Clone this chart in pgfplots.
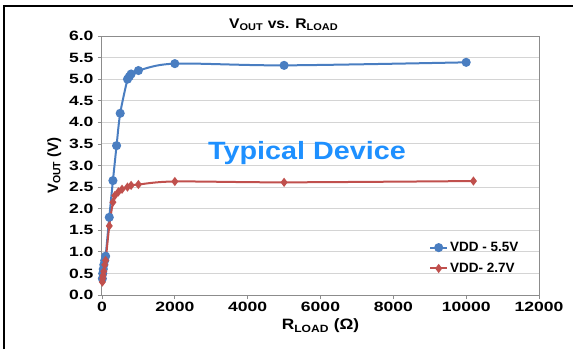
\documentclass[border=0pt]{standalone}
\usepackage{pgfplots}
\pgfplotsset{compat=1.18}
\usepackage{fontspec}
\setmainfont{Liberation Sans}
\definecolor{vblue}{RGB}{74,126,193}
\definecolor{vred}{RGB}{192,80,77}
\definecolor{tdblue}{RGB}{30,144,255}
\definecolor{axgray}{RGB}{140,140,140}
\definecolor{gridgray}{RGB}{212,212,212}
\begin{document}
\begin{tikzpicture}
\useasboundingbox (0pt,0pt) rectangle (573pt,349pt);
\draw[line width=2pt] (4pt,0pt) -- (4pt,343pt) -- (573pt,343pt);
\begin{axis}[at={(102pt,54pt)}, anchor=south west, scale only axis,
  width=437pt, height=259pt,
  xmin=0, xmax=12000, ymin=0, ymax=6,
  xtick={0,2000,...,12000}, ytick={0,0.5,...,6},
  scaled x ticks=false,
  ymajorgrids, grid style={gridgray, line width=1pt},
  axis line style={axgray, line width=1pt},
  tick style={axgray, line width=0.8pt}, tick align=outside, major tick length=4pt,
  xtick pos=lower, ytick pos=left,
  /pgf/number format/assume math mode=true,
  tick label style={font=\bfseries\fontsize{13.5}{15}\selectfont, xscale=1.3},
  x tick label style={/pgf/number format/1000 sep={}},
  y tick label style={/pgf/number format/.cd, fixed, fixed zerofill, precision=1},
  title={V\textsubscript{OUT} vs. R\textsubscript{LOAD}},
  title style={font=\bfseries\fontsize{14}{16}\selectfont, xscale=1.12, anchor=base, at={(0.416,1)}, yshift=2pt},
  xlabel={R\textsubscript{LOAD} (Ω)},
  xlabel style={font=\bfseries\fontsize{15}{17}\selectfont, xscale=1.15},
  ylabel={V\textsubscript{OUT} (V)},
  ylabel style={font=\bfseries\fontsize{15}{17}\selectfont},
  legend style={at={(0.965,0.22)}, anchor=north east, draw=none, fill=none,
    font=\bfseries\fontsize{13.5}{16}\selectfont, row sep=6pt},
  legend cell align=left,
]
\addplot[vblue, line width=2pt, smooth, mark=*, mark size=3.5pt] coordinates {
(10,0.38) (20,0.5) (35,0.6) (50,0.7) (75,0.8) (100,0.9) (200,1.8) (300,2.65)
(400,3.46) (500,4.21) (700,5.0) (750,5.06) (800,5.12) (1000,5.2) (2000,5.36)
(5000,5.32) (10000,5.39)};
\addlegendentry{VDD - 5.5V}
\addplot[vred, line width=2pt, smooth, mark=diamond*, mark size=3pt] coordinates {
(10,0.3) (20,0.38) (30,0.45) (50,0.55) (75,0.7) (100,0.8) (200,1.6) (300,2.15)
(350,2.3) (450,2.39) (550,2.45) (700,2.5) (800,2.54) (1000,2.56) (2000,2.63)
(5000,2.61) (10200,2.64)};
\addlegendentry{VDD- 2.7V}
\node[anchor=base, text=tdblue, font=\bfseries\fontsize{25}{28}\selectfont, xscale=1.15]
  at (axis cs:5630,3.13) {Typical Device};
\end{axis}
\end{tikzpicture}
\end{document}
